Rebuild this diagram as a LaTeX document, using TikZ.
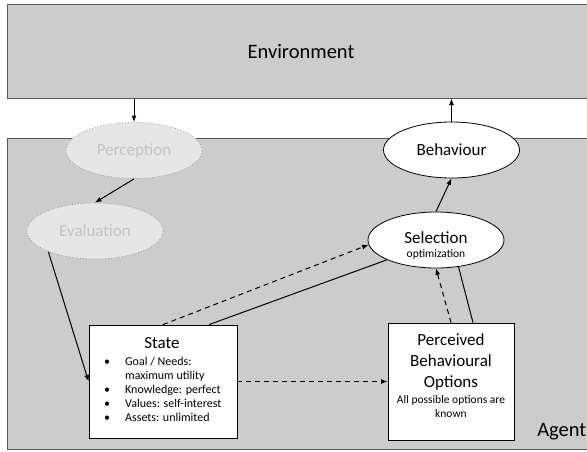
\documentclass[tikz,border=0pt]{standalone}
\usepackage{fontspec}
\setmainfont{Carlito}
\usetikzlibrary{shapes.geometric,arrows.meta}

\definecolor{panelgray}{HTML}{CCCCCC}
\definecolor{panelline}{HTML}{5A5A5A}
\definecolor{fadedfill}{HTML}{E6E6E6}
\definecolor{fadedline}{HTML}{9A9A9A}
\definecolor{fadedtext}{HTML}{C4C4C4}

\tikzset{
  panel/.style={rectangle, draw=panelline, fill=panelgray, line width=1pt, inner sep=0pt},
  bigtext/.style={font=\fontsize{20.5}{24}\selectfont},
  midtext/.style={font=\fontsize{17}{21}\selectfont},
  smalltext/.style={font=\fontsize{11.5}{14}\selectfont},
  oval/.style={ellipse, draw=black, fill=white, line width=0.8pt, inner sep=0pt,
    minimum width=136pt, minimum height=56pt, font=\fontsize{17}{21}\selectfont, align=center},
  fadedoval/.style={oval, draw=fadedline, fill=fadedfill, dotted, text=fadedtext},
  card/.style={rectangle, draw=black, fill=white, line width=0.8pt, inner sep=0pt},
  link/.style={line width=1pt, draw=black},
  flow/.style={link, -{Latex[length=6.5pt,width=5pt]}},
  hint/.style={flow, dash pattern=on 5pt off 4pt},
}

\begin{document}
\begin{tikzpicture}[x=1pt,y=-1pt]
  \useasboundingbox (0,0) rectangle (587,451);
  \clip (0,0) rectangle (587,451);

  % outer panels
  \node[panel, minimum width=588pt, minimum height=94pt] (env) at (301,51) {};
  \node[bigtext] (envlbl) at (301,52) {Environment};
  \node[panel, minimum width=588pt, minimum height=311pt] (agent) at (301,293.5) {};
  \node[bigtext, anchor=east, inner sep=0pt] (agentlbl) at (586.5,432) {Agent};

  % process ellipses
  \node[fadedoval] (per) at (134,150.5) {Perception};
  \node[fadedoval] (eva) at (95,231) {Evaluation};
  \node[oval] (beh) at (451.5,150) {\raisebox{1.5pt}{Behaviour}};
  \node[oval] (sel) at (436,240) {};
  \node[midtext] (seltxt) at (436,237.5) {Selection};
  \node[smalltext] (selnote) at (436,254.5) {optimization};

  % state card
  \node[card, minimum width=148pt, minimum height=113pt] (state) at (163,381.5) {};
  \node[midtext] (statettl) at (162,343) {State};
  \node[anchor=north west, inner sep=0pt, font=\fontsize{12}{14}\selectfont] (statelist) at (104,355)
    {\begin{tabular}{@{}l@{\hspace{15pt}}l@{}}
      • & Goal / Needs:\\
        & maximum utility\\
      • & Knowledge: perfect\\
      • & Values: self-interest\\
      • & Assets: unlimited
     \end{tabular}};

  % perceived options card
  \node[card, minimum width=126pt, minimum height=117pt] (pbo) at (451,381.5) {};
  \node[midtext, align=center, inner sep=0pt, anchor=north] (pbottl) at (451,333.5)
    {Perceived\\Behavioural\\Options};
  \node[smalltext, align=center, inner sep=0pt, anchor=north] (pbonote)
    at (451,395.5) {All possible options are\\known};

  % connectors
  \draw[flow] (per.north |- env.south) -- (per.north);
  \draw[flow] (per.south) -- (eva.north);
  \draw[flow] (eva.204) -- (state.west);
  \draw[flow] (beh.north) -- (beh.north |- env.south);
  \draw[flow] (sel.north) -- (beh.south);
  \draw[hint] (state.north) -- (sel.184);
  \draw[link] ([xshift=46pt]state.north) -- (sel.202);
  \draw[hint] (state.east) -- (pbo.west);
  \draw[hint] (pbo.north) -- (sel.south);
  \draw[link] ([xshift=22pt]pbo.north) -- (sel.310);
\end{tikzpicture}
\end{document}
